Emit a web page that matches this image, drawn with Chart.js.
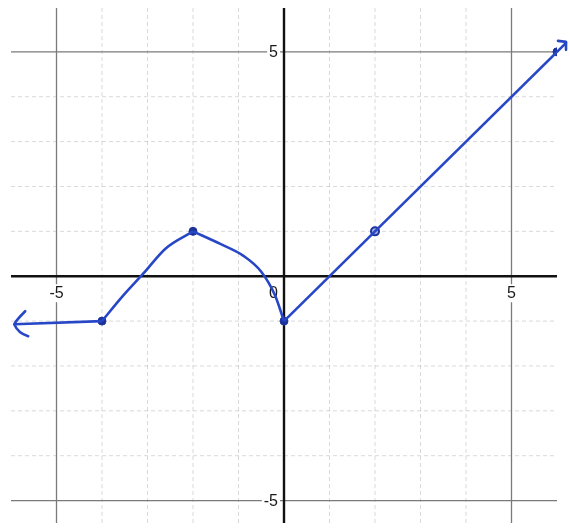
<!DOCTYPE html>
<html>
<head>
<meta charset="utf-8">
<script src="https://cdn.jsdelivr.net/npm/chart.js@4.4.1/dist/chart.umd.min.js"></script>
<style>
  html, body { margin: 0; padding: 0; background: #fff; }
  #wrap { width: 570px; height: 529px; }
</style>
</head>
<body>
<div id="wrap"><canvas id="graph"></canvas></div>
<script>
// window of the graph
const xMin = -6, xMax = 6;
const yMin = -5.5, yMax = 6;

// left ray, ends at (-4,-1)
const rayX = [-5.93, -4];
const rayY = [-1.07, -1];

// hand drawn hump: rising side up to the corner at (-2,1), then falling side
const riseX = [-4, -3.55, -3.1, -2.6, -2];
const riseY = [-1, -0.45, 0.05, 0.62, 1];
const fallX = [-2, -1.4, -0.9, -0.5, -0.2, 0];
const fallY = [1, 0.72, 0.46, 0.1, -0.42, -1];

// right piece, slope 1
const lineX = [0, 2, 6];
const lineY = [-1, 1, 5];

// solid dots and the hole
const dotX = [-4, -2, 0, 6];
const dotY = [-1, 1, -1, 5];
const holeX = [2];
const holeY = [1];

// axis numbers
const xTickVals = [-5, 0, 5];
const xTickLabels = ['-5', '0', '5'];
const yTickVals = [5, -5];
const yTickLabels = ['5', '-5'];

const penBlue = '#2747c6';
const dotBlue = '#1d3399';

function toPoints(xs, ys) {
    return xs.map((x, i) => ({ x: x, y: ys[i] }));
}

function penLine(xs, ys, smooth) {
    return {
        data: toPoints(xs, ys),
        showLine: true,
        borderColor: penBlue,
        borderWidth: 2.6,
        cubicInterpolationMode: smooth ? 'monotone' : 'default',
        pointRadius: 0
    };
}

// grid, axes and the numbers on them
const gridPlugin = {
    id: 'grid',
    beforeDatasetsDraw(chart) {
        const { ctx, chartArea: a, scales: { x, y } } = chart;
        ctx.save();

        const drawLine = (x1, y1, x2, y2, kind) => {
            ctx.beginPath();
            if (kind === 'axis') {
                ctx.strokeStyle = '#111';
                ctx.lineWidth = 2.4;
                ctx.setLineDash([]);
            } else if (kind === 'major') {
                ctx.strokeStyle = '#7a7a7a';
                ctx.lineWidth = 1.3;
                ctx.setLineDash([]);
            } else {
                ctx.strokeStyle = 'rgba(0, 0, 0, 0.15)';
                ctx.lineWidth = 1;
                ctx.setLineDash([4, 3]);
            }
            ctx.moveTo(x1, y1);
            ctx.lineTo(x2, y2);
            ctx.stroke();
        };
        const kindOf = v => (v === 0 ? 'axis' : Math.abs(v) === 5 ? 'major' : 'minor');

        // light lines first, heavy ones on top; no lines on the window edges
        ['minor', 'major', 'axis'].forEach(k => {
            for (let v = Math.ceil(xMin) + 1; v < xMax; v++) {
                if (kindOf(v) !== k) continue;
                const px = x.getPixelForValue(v);
                drawLine(px, a.top + 1, px, a.bottom, k);
            }
            for (let v = Math.ceil(yMin); v < yMax; v++) {
                if (kindOf(v) !== k) continue;
                const py = y.getPixelForValue(v);
                drawLine(a.left, py, a.right, py, k);
            }
        });

        ctx.setLineDash([]);
        ctx.font = '16px "Liberation Sans", Arial, sans-serif';
        const x0 = x.getPixelForValue(0);
        const y0 = y.getPixelForValue(0);

        const label = (text, px, py, align, baseline) => {
            ctx.textAlign = align;
            ctx.textBaseline = baseline;
            const w = ctx.measureText(text).width;
            const left = align === 'center' ? px - w / 2 : align === 'right' ? px - w : px;
            const top = baseline === 'top' ? py : py - 8;
            ctx.fillStyle = '#fff';
            ctx.fillRect(left - 2, top - 1, w + 4, 18);
            ctx.fillStyle = '#1a1a1a';
            ctx.fillText(text, px, py);
        };

        xTickVals.forEach((v, i) => {
            if (v === 0) {
                label(xTickLabels[i], x0 - 6, y0 + 9, 'right', 'top');
            } else {
                label(xTickLabels[i], x.getPixelForValue(v), y0 + 9, 'center', 'top');
            }
        });
        yTickVals.forEach((v, i) => {
            label(yTickLabels[i], x0 - 6, y.getPixelForValue(v) + 1, 'right', 'middle');
        });
        ctx.restore();
    }
};

// arrow tips at both open ends of the graph
const arrowPlugin = {
    id: 'arrows',
    afterDatasetsDraw(chart) {
        const { ctx, scales: { x, y } } = chart;
        ctx.save();
        ctx.strokeStyle = penBlue;
        ctx.lineWidth = 2.6;
        ctx.lineCap = 'round';
        ctx.lineJoin = 'round';

        // left tip
        const lx = x.getPixelForValue(rayX[0]);
        const ly = y.getPixelForValue(rayY[0]);
        ctx.beginPath();
        ctx.moveTo(lx + 11, ly - 13);
        ctx.quadraticCurveTo(lx + 2, ly - 4, lx, ly);
        ctx.quadraticCurveTo(lx + 4, ly + 9, lx + 14, ly + 12);
        ctx.stroke();

        // upper right tip
        const rx = x.getPixelForValue(lineX[lineX.length - 1]);
        const ry = y.getPixelForValue(lineY[lineY.length - 1]);
        ctx.beginPath();
        ctx.moveTo(rx, ry);
        ctx.lineTo(rx + 9, ry - 9);
        ctx.stroke();
        ctx.beginPath();
        ctx.moveTo(rx + 1, ry - 11);
        ctx.lineTo(rx + 9, ry - 10);
        ctx.lineTo(rx + 9, ry - 2);
        ctx.stroke();
        ctx.restore();
    }
};

new Chart(document.getElementById('graph'), {
    type: 'scatter',
    data: {
        datasets: [
            penLine(rayX, rayY, false),
            penLine(riseX, riseY, true),
            penLine(fallX, fallY, true),
            penLine(lineX, lineY, false),
            {
                data: toPoints(dotX, dotY),
                backgroundColor: dotBlue,
                borderColor: dotBlue,
                borderWidth: 1,
                pointRadius: 4
            },
            {
                data: toPoints(holeX, holeY),
                backgroundColor: '#9fb0e8',
                borderColor: dotBlue,
                borderWidth: 2,
                pointRadius: 4
            }
        ]
    },
    options: {
        responsive: true,
        maintainAspectRatio: false,
        animation: false,
        layout: {
            padding: { left: 11, right: 13, top: 7, bottom: 0 }
        },
        scales: {
            x: { type: 'linear', min: xMin, max: xMax, display: false },
            y: { type: 'linear', min: yMin, max: yMax, display: false }
        },
        plugins: {
            legend: { display: false },
            tooltip: { enabled: false }
        }
    },
    plugins: [gridPlugin, arrowPlugin]
});
</script>
</body>
</html>
